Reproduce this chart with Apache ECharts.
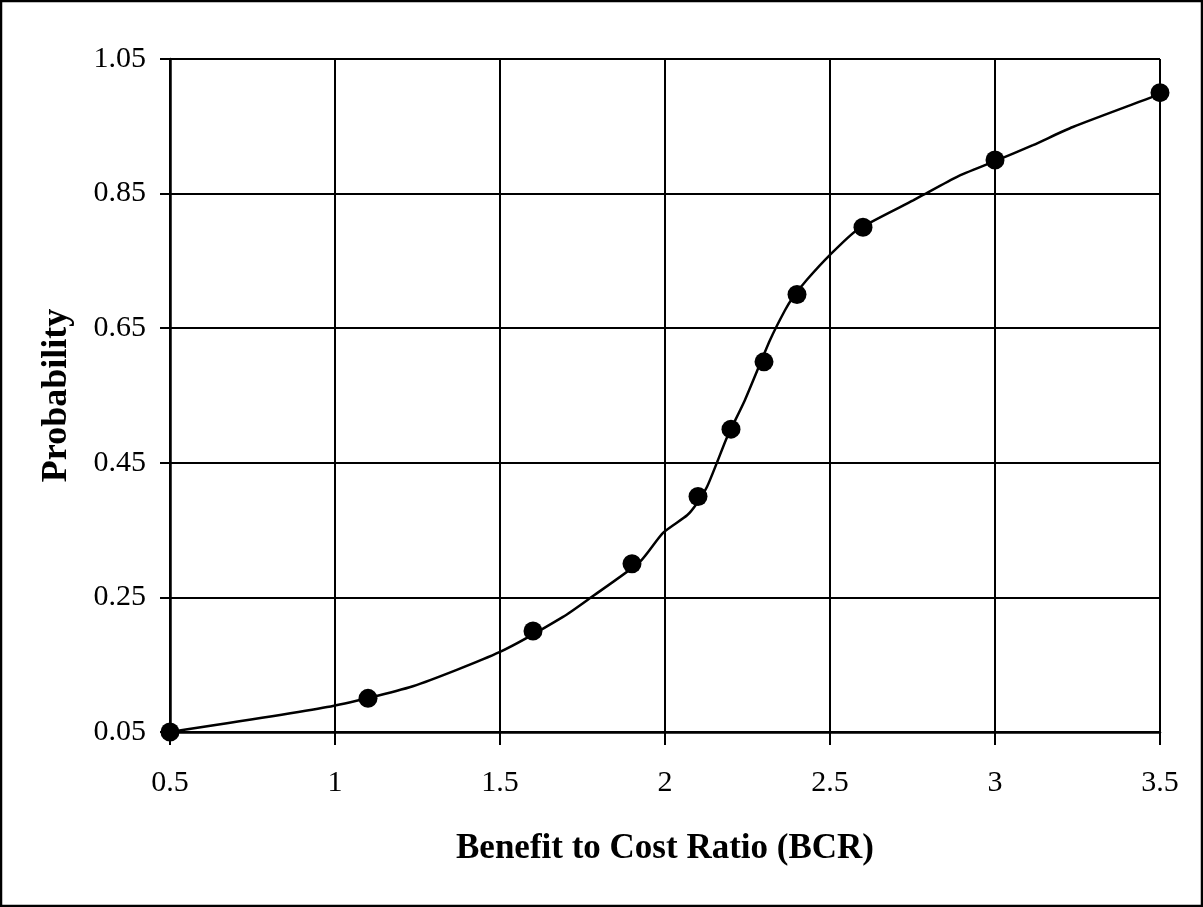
<!DOCTYPE html>
<html>
<head>
<meta charset="utf-8">
<script src="https://cdn.jsdelivr.net/npm/echarts@6/dist/echarts.min.js"></script>
<style>
  html, body { margin: 0; padding: 0; background: #fff; }
  #chart { width: 1203px; height: 907px; }
</style>
</head>
<body>
<div id="chart"></div>
<script>
// Observed points: benefit-to-cost ratio vs. cumulative probability
const bcrPoints = [0.5, 1.1, 1.6, 1.9, 2.1, 2.2, 2.3, 2.4, 2.6, 3.0, 3.5];
const probPoints = [0.05, 0.10, 0.20, 0.30, 0.40, 0.50, 0.60, 0.70, 0.80, 0.90, 1.00];

// Fitted curve vertices
const curveX = [0.5, 0.976, 1.236, 1.5, 1.691, 1.773, 1.924, 1.994, 2.067, 2.097, 2.127, 2.158, 2.188, 2.242, 2.318, 2.364, 2.388, 2.43, 2.5, 2.582, 2.752, 2.782, 2.885, 2.994, 3.115, 3.236, 3.479, 3.5];
const curveY = [0.05, 0.087, 0.118, 0.169, 0.221, 0.249, 0.303, 0.346, 0.372, 0.39, 0.414, 0.451, 0.488, 0.543, 0.632, 0.677, 0.696, 0.722, 0.759, 0.796, 0.84, 0.848, 0.875, 0.897, 0.922, 0.949, 0.994, 0.998];

const xTitle = 'Benefit to Cost Ratio (BCR)';
const yTitle = 'Probability';

const font = '"Liberation Serif", "Times New Roman", serif';

const chart = echarts.init(document.getElementById('chart'), null, { renderer: 'canvas' });

chart.setOption({
  animation: false,
  backgroundColor: '#fff',
  textStyle: { fontFamily: font },
  graphic: [{
    type: 'rect',
    shape: { x: 1, y: 1, width: 1201, height: 905 },
    style: { fill: 'none', stroke: '#000', lineWidth: 2.5 },
    silent: true
  }],
  grid: { left: 170, right: 43, top: 59, bottom: 175 },
  xAxis: {
    type: 'value',
    min: 0.5, max: 3.5, interval: 0.5,
    name: xTitle,
    nameLocation: 'middle',
    nameGap: 99,
    nameTextStyle: { fontFamily: font, fontSize: 35, fontWeight: 'bold', color: '#000' },
    axisLine: { show: true, onZero: false, lineStyle: { color: '#000', width: 2.5 } },
    axisTick: { show: true, inside: false, length: 13, lineStyle: { color: '#000', width: 2 } },
    axisLabel: { fontFamily: font, fontSize: 30, color: '#000', margin: 36 },
    splitLine: { show: true, lineStyle: { color: '#000', width: 2 } }
  },
  yAxis: {
    type: 'value',
    min: 0.05, max: 1.05, interval: 0.2,
    name: yTitle,
    nameLocation: 'middle',
    nameGap: 95,
    nameRotate: 90,
    nameTextStyle: { fontFamily: font, fontSize: 36, fontWeight: 'bold', color: '#000' },
    axisLine: { show: true, onZero: false, lineStyle: { color: '#000', width: 2.5 } },
    axisTick: { show: true, inside: false, length: 10, lineStyle: { color: '#000', width: 2 } },
    axisLabel: {
      fontFamily: font, fontSize: 30, color: '#000', margin: 24,
      formatter: v => v.toFixed(2)
    },
    splitLine: { show: true, lineStyle: { color: '#000', width: 2 } }
  },
  series: [
    {
      type: 'line',
      data: curveX.map((x, i) => [x, curveY[i]]),
      showSymbol: false,
      symbol: 'none',
      smooth: 0.2,
      lineStyle: { color: '#000', width: 2.5 },
      z: 3
    },
    {
      type: 'scatter',
      data: bcrPoints.map((x, i) => [x, probPoints[i]]),
      symbol: 'circle',
      symbolSize: 19,
      itemStyle: { color: '#000', opacity: 1 },
      z: 4
    }
  ]
});
</script>
</body>
</html>
